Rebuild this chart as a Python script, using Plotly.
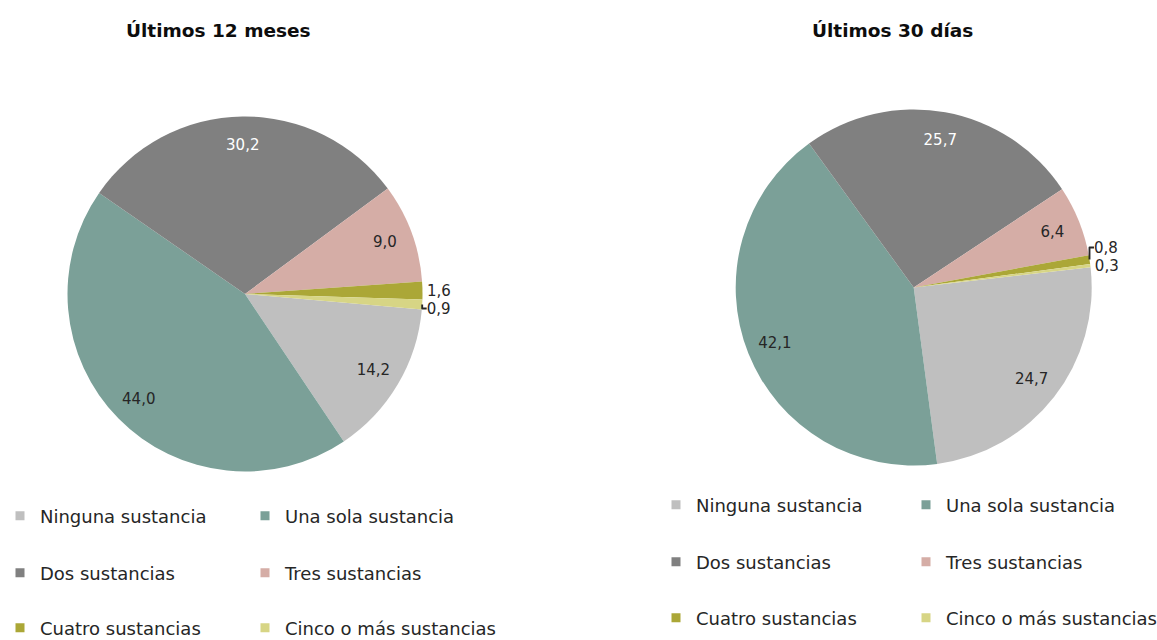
import plotly.graph_objects as go

# ---- data ----
categories = ["Ninguna sustancia", "Una sola sustancia", "Dos sustancias",
              "Tres sustancias", "Cuatro sustancias", "Cinco o más sustancias"]
values_12m = [14.2, 44.0, 30.2, 9.0, 1.6, 0.9]
values_30d = [24.7, 42.1, 25.7, 6.4, 0.8, 0.3]
titles = ["Últimos 12 meses", "Últimos 30 días"]
colors = ["#BFBFBF", "#7BA098", "#808080", "#D5ADA6", "#ABA737", "#D7D585"]
label_colors = ["#262626", "#262626", "#FFFFFF", "#262626", "#262626", "#262626"]

W, H = 1157, 640
FONT = "DejaVu Sans"


def fmt(v):
    return f"{v:.1f}".replace(".", ",")


def px_domain(cx, cy, r):
    return dict(x=[(cx - r) / W, (cx + r) / W], y=[1 - (cy + r) / H, 1 - (cy - r) / H])


pies = [
    dict(values=values_12m, cx=245, cy=294, r=177.5, rot=95, title_x=218, legend_x=-6,
         rows=[516, 573, 628], entry=200),
    dict(values=values_30d, cx=913.7, cy=287.5, r=178, rot=83.5, title_x=892, legend_x=656,
         rows=[505, 562, 618], entry=205),
]

fig = go.Figure()
annotations = []
legend_layouts = {}
leg_idx = 0
for p_i, p in enumerate(pies):
    dom = px_domain(p["cx"], p["cy"], p["r"])
    vals = p["values"]
    # slices
    fig.add_trace(go.Pie(
        labels=categories, values=vals, sort=False, direction="clockwise",
        rotation=p["rot"], domain=dom, marker=dict(colors=colors, line=dict(width=0)),
        textinfo="none", showlegend=False, hoverinfo="label+value",
    ))
    # labels layer (transparent ring so that labels sit near the rim)
    positions = ["inside" if v >= 3 else "outside" for v in vals]
    fig.add_trace(go.Pie(
        labels=categories, values=vals, sort=False, direction="clockwise",
        rotation=p["rot"], domain=dom, hole=0.68,
        marker=dict(colors=["rgba(0,0,0,0)"] * len(vals), line=dict(width=0)),
        text=[fmt(v) for v in vals], textinfo="text", textposition=positions,
        insidetextorientation="horizontal",
        insidetextfont=dict(family=FONT, size=15, color=label_colors),
        outsidetextfont=dict(family=FONT, size=15, color="#262626"),
        showlegend=False, hoverinfo="skip",
    ))
    annotations.append(dict(
        text=f"<b>{titles[p_i]}</b>", x=p["title_x"] / W, y=1 - 30 / H,
        xref="paper", yref="paper", showarrow=False,
        font=dict(family=FONT, size=18.5, color="#0D0D0D"),
        xanchor="center", yanchor="middle",
    ))
    # legends: 3 rows x 2 columns
    for row in range(3):
        leg_idx += 1
        lname = "legend" if leg_idx == 1 else f"legend{leg_idx}"
        for col in range(2):
            k = row * 2 + col
            fig.add_trace(go.Scatter(
                x=[None], y=[None], mode="markers", name=categories[k],
                marker=dict(symbol="square", size=9, color=colors[k]),
                legend=lname, showlegend=True, hoverinfo="skip",
                legendwidth=p["entry"] if col == 0 else 230,
            ))
        legend_layouts[lname] = dict(
            orientation="h", xref="container", yref="container",
            x=p["legend_x"] / W, y=1 - p["rows"][row] / H,
            xanchor="left", yanchor="middle",
            entrywidth=p["entry"], entrywidthmode="pixels",
            font=dict(family=FONT, size=18, color="#262626"),
            bgcolor="rgba(0,0,0,0)", borderwidth=0, itemclick=False,
        )

fig.update_layout(
    width=W, height=H, margin=dict(l=0, r=0, t=0, b=0, autoexpand=False),
    paper_bgcolor="white", plot_bgcolor="white",
    xaxis=dict(visible=False), yaxis=dict(visible=False),
    annotations=annotations, showlegend=True,
    **legend_layouts,
)

fig.write_html("out.html", config={"displayModeBar": False},
               post_script="document.body.style.margin='0';")
